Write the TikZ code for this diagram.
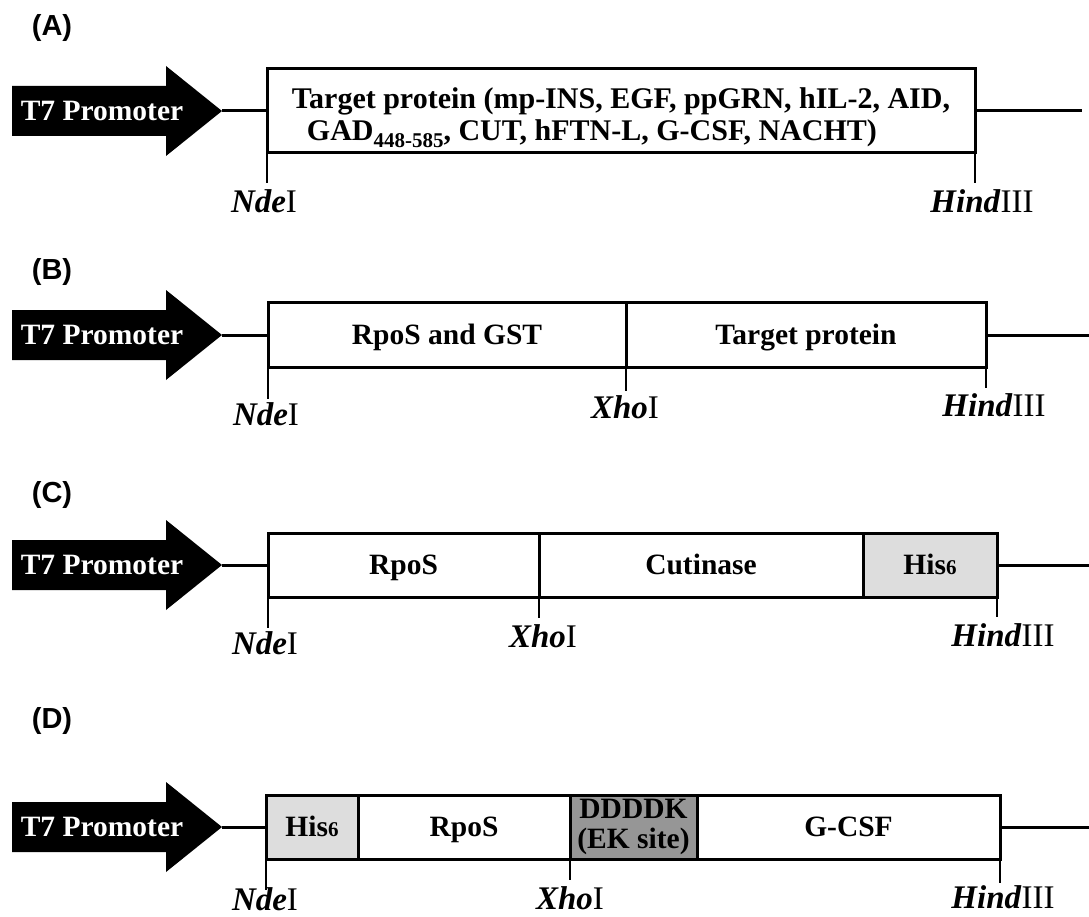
\documentclass[tikz,border=0pt]{standalone}
\usepackage{fontspec}
\setmainfont{Liberation Serif}
\newfontfamily\panelfont{Liberation Sans}
\usetikzlibrary{positioning}

\definecolor{hisgray}{RGB}{221,221,221}
\definecolor{ekgray}{RGB}{150,150,150}

% restriction site label: italic part + roman part
\newcommand{\enz}[2]{\textbf{\textit{#1}}#2}
\newcommand{\hissix}{His{\fontsize{21}{21}\selectfont 6}}

\begin{document}
\begin{tikzpicture}[x=1pt, y=-1pt,
    % uniform line width for wires and boxes
    every path/.style={color=black, line width=3pt},
    seg/.style={draw, line width=3pt, inner sep=0pt, outer sep=0pt, anchor=west,
      align=center, font=\fontsize{29.5}{31}\selectfont\bfseries},
    one/.style={text height=19.5pt, text depth=0pt},
    promo/.style={text=white, inner sep=0pt, font=\fontsize{29.5}{30}\selectfont\bfseries},
    site/.style={inner sep=0pt, font=\fontsize{33}{33}\selectfont},
    panel/.style={inner sep=0pt, font=\panelfont\fontsize{29}{29}\selectfont\bfseries},
    tick/.style={line width=2pt}
  ]
  \useasboundingbox (0,0) rectangle (1089,917);

  % --- Construct (A) ---
  \def\Y{111}
  \node[panel] (labA) at (52,28) {(A)};
  \fill (12,\Y-25) -- (166,\Y-25) -- (166,\Y-45) -- (222,\Y)
      -- (166,\Y+45) -- (166,\Y+25) -- (12,\Y+25) -- cycle;
  \coordinate (tipA) at (222,\Y);
  \node[promo] (proA) at (102,\Y) {T7 Promoter};
  \node[seg, minimum width=708pt, minimum height=84pt, align=left,
        font=\fontsize{30}{32}\selectfont\bfseries] (tgtA) at (267,\Y)
    {\rule{0pt}{35pt}Target protein (mp-INS, EGF, ppGRN, hIL-2, AID,\\
     \hspace*{15pt}GAD{\fontsize{21}{21}\selectfont\raisebox{-7pt}{448-585}}, CUT, hFTN-L, G-CSF, NACHT)};
  \coordinate (endA) at (1082,\Y);
  \draw (tipA) -- (tgtA.west);
  \draw (tgtA.east) -- (endA);
  \draw[tick] (tgtA.south west) -- ++(0,30);
  \draw[tick] (tgtA.south east) -- ++(0,30);
  \node[site] (ndeA) at (264,201) {\enz{Nde}{I}};
  \node[site] (hindA) at (982,201) {\enz{Hind}{III}};

  % --- Construct (B) ---
  \def\Y{335}
  \node[panel] (labB) at (52,272) {(B)};
  \fill (12,\Y-25) -- (166,\Y-25) -- (166,\Y-45) -- (222,\Y)
      -- (166,\Y+45) -- (166,\Y+25) -- (12,\Y+25) -- cycle;
  \coordinate (tipB) at (222,\Y);
  \node[promo] (proB) at (102,\Y) {T7 Promoter};
  \node[seg, one, minimum width=358pt, minimum height=65pt] (gstB) at (268,\Y) {RpoS and GST};
  \node[seg, one, minimum width=360pt, minimum height=65pt] (tgtB) at (gstB.east) {Target protein};
  \coordinate (endB) at (1089,\Y);
  \draw (tipB) -- (gstB.west);
  \draw (tgtB.east) -- (endB);
  \draw[tick] (gstB.south west) -- ++(0,31);
  \draw[tick] (gstB.south east) -- ++(0,23);
  \draw[tick] (tgtB.south east) -- ++(0,20);
  \node[site] (ndeB) at (266,414) {\enz{Nde}{I}};
  \node[site] (xhoB) at (625,407) {\enz{Xho}{I}};
  \node[site] (hindB) at (994,405) {\enz{Hind}{III}};

  % --- Construct (C) ---
  \def\Y{565}
  \node[panel] (labC) at (52,495) {(C)};
  \fill (12,\Y-25) -- (166,\Y-25) -- (166,\Y-45) -- (222,\Y)
      -- (166,\Y+45) -- (166,\Y+25) -- (12,\Y+25) -- cycle;
  \coordinate (tipC) at (222,\Y);
  \node[promo] (proC) at (102,\Y) {T7 Promoter};
  \node[seg, one, minimum width=271pt, minimum height=64pt] (rpoC) at (268,\Y) {RpoS};
  \node[seg, one, minimum width=324pt, minimum height=64pt] (cutC) at (rpoC.east) {Cutinase};
  \node[seg, one, minimum width=134pt, minimum height=64pt, fill=hisgray] (hisC) at (cutC.east) {\hissix};
  \coordinate (endC) at (1089,\Y);
  \draw (tipC) -- (rpoC.west);
  \draw (hisC.east) -- (endC);
  \draw[tick] (rpoC.south west) -- ++(0,31);
  \draw[tick] (rpoC.south east) -- ++(0,21);
  \draw[tick] (hisC.south east) -- ++(0,20);
  \node[site] (ndeC) at (265,643) {\enz{Nde}{I}};
  \node[site] (xhoC) at (543,636) {\enz{Xho}{I}};
  \node[site] (hindC) at (1003,635) {\enz{Hind}{III}};

  % --- Construct (D) ---
  \def\Y{827}
  \node[panel] (labD) at (52,721) {(D)};
  \fill (12,\Y-25) -- (166,\Y-25) -- (166,\Y-45) -- (222,\Y)
      -- (166,\Y+45) -- (166,\Y+25) -- (12,\Y+25) -- cycle;
  \coordinate (tipD) at (222,\Y);
  \node[promo] (proD) at (102,\Y) {T7 Promoter};
  \node[seg, one, minimum width=92pt, minimum height=64pt, fill=hisgray] (hisD) at (266,\Y) {\hissix};
  \node[seg, one, minimum width=212pt, minimum height=64pt] (rpoD) at (hisD.east) {RpoS};
  \node[seg, minimum width=127pt, minimum height=64pt, fill=ekgray,
        font=\fontsize{29.5}{30}\selectfont\bfseries] (ekD) at (rpoD.east) {DDDDK\\(EK site)};
  \node[seg, one, minimum width=303pt, minimum height=64pt] (gcsfD) at (ekD.east) {G-CSF};
  \coordinate (endD) at (1089,\Y);
  \draw (tipD) -- (hisD.west);
  \draw (gcsfD.east) -- (endD);
  \draw[tick] (hisD.south west) -- ++(0,31);
  \draw[tick] (rpoD.south east) -- ++(0,21);
  \draw[tick] (gcsfD.south east) -- ++(0,24);
  \node[site] (ndeD) at (265,899) {\enz{Nde}{I}};
  \node[site] (xhoD) at (570,898) {\enz{Xho}{I}};
  \node[site] (hindD) at (1003,897) {\enz{Hind}{III}};
\end{tikzpicture}
\end{document}
